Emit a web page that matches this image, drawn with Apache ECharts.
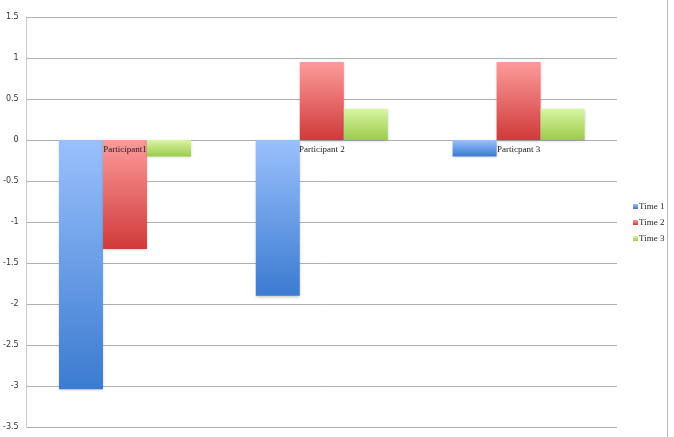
<!DOCTYPE html>
<html>
<head>
<meta charset="utf-8">
<script src="https://cdn.jsdelivr.net/npm/echarts@6/dist/echarts.min.js"></script>
<style>
  html, body { margin: 0; padding: 0; background: #fff; }
  #chart { width: 674px; height: 437px; }
</style>
</head>
<body>
<div id="chart"></div>
<script>
// 数据
var categories = ["Participant1", "Participant 2", "Particpant 3"];
var seriesNames = ["Time 1", "Time 2", "Time 3"];
var time1 = [-3.04, -1.9, -0.2];
var time2 = [-1.33, 0.95, 0.95];
var time3 = [-0.2, 0.38, 0.38];
var yTicks = { min: -3.5, max: 1.5, step: 0.5 };

// 渐变色：上浅下深
function grad(top, bottom) {
  return new echarts.graphic.LinearGradient(0, 0, 0, 1, [
    { offset: 0, color: top },
    { offset: 1, color: bottom }
  ]);
}

var colors = [
  grad("#9ac0fc", "#3b7bd0"),
  grad("#fc9b9a", "#d03a3a"),
  grad("#d9f5a3", "#9ccb4c")
];
var legendColors = ["#4a86d8", "#d84848", "#a8d45c"];

var myChart = echarts.init(document.getElementById("chart"));
var serif = "'Liberation Serif', 'DejaVu Serif', serif";

// 绘图区
var gridTop = 17, gridBottom = 10, chartH = 437;
var plotH = chartH - gridTop - gridBottom;
// 类目轴放在 0 刻度处（从顶部下移）
var zeroOffset = -plotH * yTicks.max / (yTicks.max - yTicks.min);

function makeSeries(name, data, idx) {
  return {
    name: name,
    type: "bar",
    data: data,
    barWidth: 44,
    barGap: "0%",
    itemStyle: {
      color: colors[idx],
      shadowBlur: 3,
      shadowOffsetY: 1,
      shadowColor: "rgba(0,0,0,0.25)"
    }
  };
}

var option = {
  animation: false,
  color: legendColors,
  grid: { left: 25, right: 57, top: gridTop, bottom: gridBottom },
  legend: {
    orient: "vertical",
    left: 628,
    top: 197,
    itemWidth: 5,
    itemHeight: 5,
    itemGap: 7,
    icon: "rect",
    textStyle: { fontFamily: serif, fontSize: 9, color: "#222", padding: [0, 0, 0, -4] },
    data: seriesNames
  },
  xAxis: {
    type: "category",
    data: categories,
    position: "top",
    offset: zeroOffset,
    z: 10,
    axisLine: { show: false, onZero: false },
    axisTick: { show: false },
    axisLabel: { inside: true, fontFamily: serif, fontSize: 9, color: "#222", margin: 5 },
    splitLine: { show: false }
  },
  yAxis: {
    type: "value",
    min: yTicks.min,
    max: yTicks.max,
    interval: yTicks.step,
    axisLine: { show: true, lineStyle: { color: "#c8c8c8" } },
    axisTick: { show: false },
    axisLabel: { fontFamily: "'DejaVu Sans', sans-serif", fontSize: 8, color: "#333", margin: 8 },
    splitLine: { lineStyle: { color: "#b0b0b0" } }
  },
  graphic: [
    {
      type: "line",
      shape: { x1: 667.5, y1: 0, x2: 667.5, y2: 437 },
      style: { stroke: "#bbb", lineWidth: 1 }
    }
  ],
  series: [
    makeSeries(seriesNames[0], time1, 0),
    makeSeries(seriesNames[1], time2, 1),
    makeSeries(seriesNames[2], time3, 2)
  ]
};

myChart.setOption(option);
</script>
</body>
</html>
